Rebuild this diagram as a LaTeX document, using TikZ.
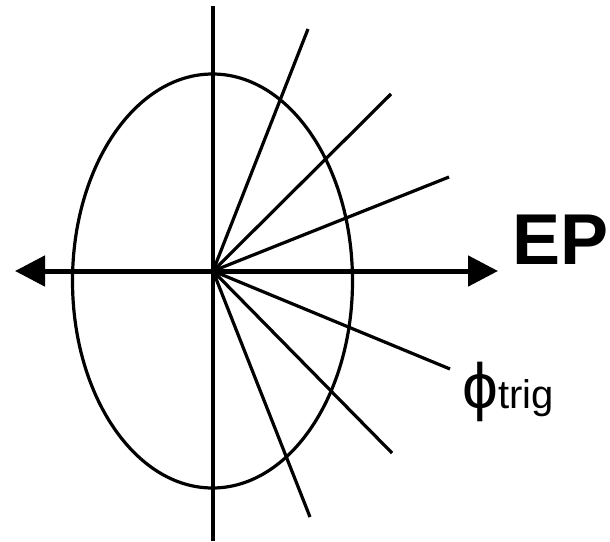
\documentclass[tikz,border=0pt]{standalone}
\usepackage{fontspec}
\setmainfont{Liberation Sans}
\usepackage{tikz}
\usetikzlibrary{positioning, arrows.meta}

\begin{document}
\begin{tikzpicture}[
  x=1pt, y=-1pt,
  ray/.style={line width=3.2pt},
  axis/.style={line width=5pt, {Triangle[length=30pt,width=30pt]}-{Triangle[length=30pt,width=30pt]}},
]
  \useasboundingbox (0,0) rectangle (610,541);
  % centre and ellipse
  \coordinate (O) at (213,271);
  \draw[ray] (212.5,281) ellipse [x radius=140, y radius=207];
  \coordinate (top) at (213,6);
  \coordinate (bot) at (213,541);
  \draw[ray] (top) -- (bot);

  % rays
  \foreach \name/\px/\py in {r1/308/29, r2/391/94, r3/449/177, r4/450/369, r5/392/453, r6/310/517} {
    \coordinate (\name) at (\px,\py);
    \draw[ray] (O) -- (\name);
  }

  % axis
  \coordinate (left) at (15,271);
  \coordinate (right) at (498,271);
  \draw[axis] (left) -- (right);
  \node[anchor=west, inner sep=0pt, font=\fontsize{72}{72}\selectfont\bfseries] (ep) at (512,240) {EP};
  \node[anchor=west, inner sep=0pt, font=\fontsize{40}{40}\selectfont] (phi) at (462,392)
    {{\fontsize{64}{64}\selectfont\symbol{"03D5}}trig};
\end{tikzpicture}
\end{document}
